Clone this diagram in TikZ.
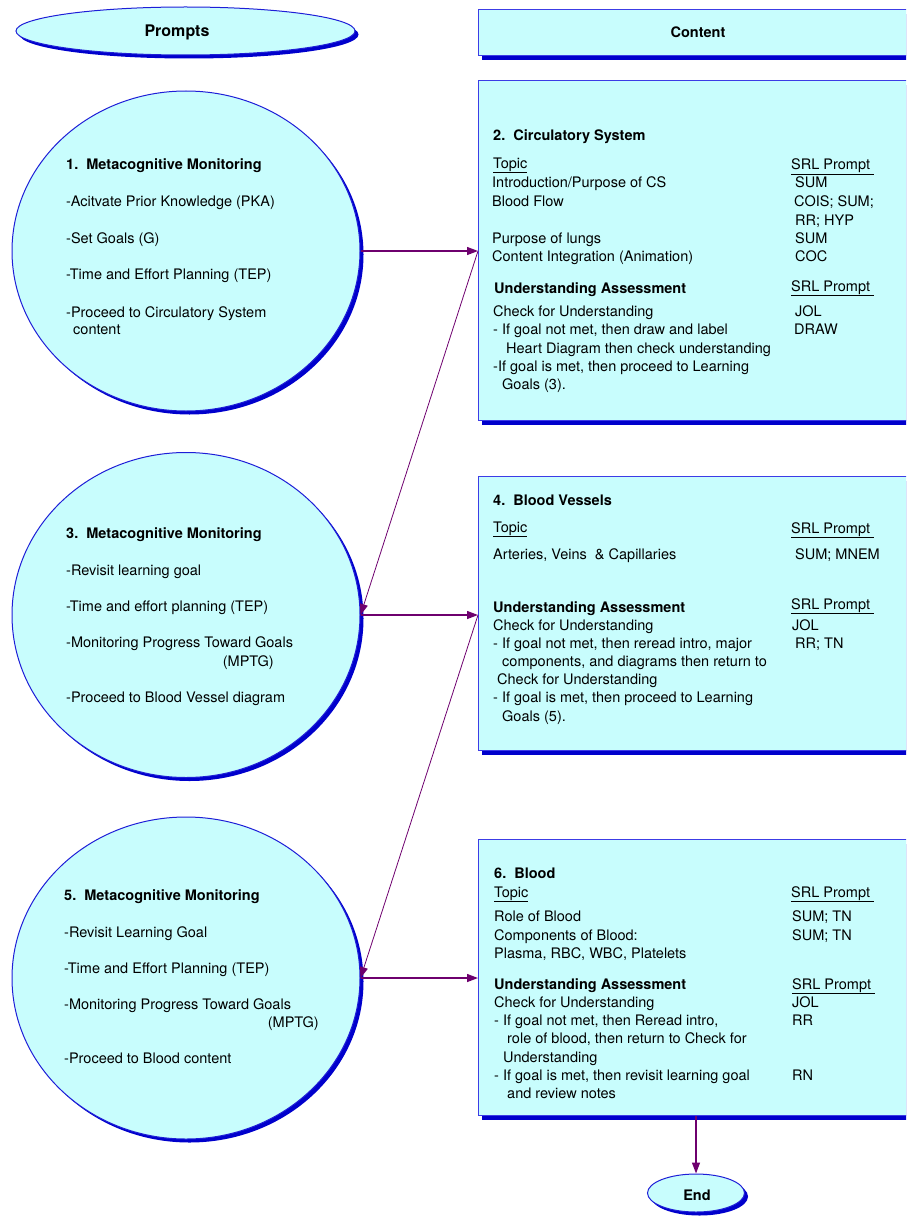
\documentclass[tikz,border=0pt]{standalone}
\usepackage{fontspec}
\setmainfont{TeX Gyre Heros}
\usetikzlibrary{shapes.geometric,shadows,arrows.meta}
\definecolor{cy}{RGB}{200,253,253}
\definecolor{bord}{RGB}{30,30,215}
\definecolor{bbord}{RGB}{60,60,230}
\definecolor{sblue}{RGB}{0,0,204}
\definecolor{arr}{RGB}{110,0,110}
\newcommand\tx[4]{\node[txt] (#1) at (#2,-#3) {#4};}
\newcommand\tr[4]{\node[txtr] (#1) at (#2,-#3) {#4};}
\newcommand\ul[1]{\underline{#1}}
\tikzset{
  txt/.style={anchor=base west, inner sep=0pt, font=\fontsize{14.5}{18}\selectfont},
  txtr/.style={anchor=base east, inner sep=0pt, font=\fontsize{14.5}{18}\selectfont},
  blob/.style={ellipse, draw=bord, line width=1pt, fill=cy, inner sep=0pt,
    drop shadow={shadow xshift=3.5pt, shadow yshift=-3.5pt, fill=sblue, opacity=1}},
  panel/.style={rectangle, draw=bbord, line width=1.3pt, fill=cy, inner sep=0pt, anchor=north west,
    drop shadow={shadow xshift=3pt, shadow yshift=-4pt, fill=sblue, opacity=1}},
  link/.style={draw=arr, line width=1.3pt, -{Triangle[length=11pt,width=8pt]}},
  thinlink/.style={draw=arr, line width=0.8pt, -{Triangle[length=11pt,width=8pt]}},
}
\begin{document}
\begin{tikzpicture}[x=1pt,y=1pt]
\useasboundingbox (0,0) rectangle (906,-1217);
\clip (0,0) rectangle (906,-1217);

% headers
\node[blob, minimum width=339pt, minimum height=48pt] (hp) at (185.5,-31) {};
\node[txt, anchor=center, font=\fontsize{16}{18}\selectfont\bfseries] (hpt) at (177,-32) {Prompts};
\node[panel, minimum width=452pt, minimum height=46pt] (hc) at (478,-9) {};
\node[txt, anchor=center, font=\fontsize{14.5}{18}\selectfont\bfseries] (hct) at (698,-32) {Content};

% circles
\node[blob, minimum width=348pt, minimum height=320pt] (c1) at (186,-251) {};
\node[blob, minimum width=348pt, minimum height=325pt] (c3) at (186,-615) {};
\node[blob, minimum width=348pt, minimum height=322pt] (c5) at (186,-978) {};

% boxes
\node[panel, minimum width=452pt, minimum height=340pt] (b2) at (478,-80) {};
\node[panel, minimum width=452pt, minimum height=274pt] (b4) at (478,-476) {};
\node[panel, minimum width=452pt, minimum height=276pt] (b6) at (478,-839) {};

% end
\node[blob, minimum width=97pt, minimum height=38pt] (end) at (696,-1193) {};
\node[txt, anchor=center, font=\fontsize{14.5}{18}\selectfont\bfseries] (endt) at (697,-1195) {End};

% circle 1 text
\tx{c1a}{66}{170}{\bfseries 1.\ \ Metacognitive Monitoring}
\tx{c1b}{66}{207}{-Acitvate Prior Knowledge (PKA)}
\tx{c1c}{66}{243}{-Set Goals (G)}
\tx{c1d}{66}{279}{-Time and Effort Planning (TEP)}
\tx{c1e}{66}{317}{-Proceed to Circulatory System}
\tx{c1f}{73}{334}{content}

% circle 3 text
\tx{c3a}{66}{538}{\bfseries 3.\ \ Metacognitive Monitoring}
\tx{c3b}{66}{575}{-Revisit learning goal}
\tx{c3c}{66}{611}{-Time and effort planning (TEP)}
\tx{c3d}{66}{647}{-Monitoring Progress Toward Goals}
\tr{c3e}{274}{666}{(MPTG)}
\tx{c3f}{66}{702}{-Proceed to Blood Vessel diagram}

% circle 5 text
\tx{c5a}{64}{900}{\bfseries 5.\ \ Metacognitive Monitoring}
\tx{c5b}{64}{937}{-Revisit Learning Goal}
\tx{c5c}{64}{973}{-Time and Effort Planning (TEP)}
\tx{c5d}{64}{1009}{-Monitoring Progress Toward Goals}
\tr{c5e}{319}{1027}{(MPTG)}
\tx{c5f}{64}{1063}{-Proceed to Blood content}

% box 2 text
\tx{b2a}{493}{141}{\bfseries 2.\ \ Circulatory System}
\tx{b2b}{493}{168}{\ul{Topic}}
\tx{b2c}{791}{170}{\ul{SRL Prompt\ }}
\tx{b2d}{492}{188}{Introduction/Purpose of CS}
\tx{b2e}{795}{188}{SUM}
\tx{b2f}{492}{206}{Blood Flow}
\tx{b2g}{794}{206}{COIS; SUM;}
\tx{b2h}{795}{225}{RR; HYP}
\tx{b2i}{492}{243}{Purpose of lungs}
\tx{b2j}{795}{243}{SUM}
\tx{b2k}{492}{261}{Content Integration (Animation)}
\tx{b2l}{795}{261}{COC}
\tx{b2m}{494}{293}{\bfseries Understanding Assessment}
\tx{b2n}{791}{291}{\ul{SRL Prompt\ }}
\tx{b2o}{493}{316}{Check for Understanding}
\tx{b2p}{795}{316}{JOL}
\tx{b2q}{493}{334}{- If goal not met, then draw and label}
\tx{b2r}{794}{334}{DRAW}
\tx{b2s}{506}{353}{Heart Diagram then check understanding}
\tx{b2t}{493}{371}{-If goal is met, then proceed to Learning}
\tx{b2u}{502}{389}{Goals (3).}

% box 4 text
\tx{b4a}{493}{505}{\bfseries 4.\ \ Blood Vessels}
\tx{b4b}{493}{532}{\ul{Topic}}
\tx{b4c}{791}{533}{\ul{SRL Prompt\ }}
\tx{b4d}{493}{559}{Arteries, Veins\ \ \& Capillaries}
\tx{b4e}{795}{559}{SUM; MNEM}
\tx{b4f}{493}{612}{\bfseries Understanding Assessment}
\tx{b4g}{791}{609}{\ul{SRL Prompt\ }}
\tx{b4h}{493}{630}{Check for Understanding}
\tx{b4i}{792}{630}{JOL}
\tx{b4j}{493}{648}{- If goal not met, then reread intro, major}
\tx{b4k}{795}{648}{RR; TN}
\tx{b4l}{502}{666}{components, and diagrams then return to}
\tx{b4m}{497}{684}{Check for Understanding}
\tx{b4n}{493}{702}{- If goal is met, then proceed to Learning}
\tx{b4o}{502}{721}{Goals (5).}

% box 6 text
\tx{b6a}{494}{878}{\bfseries 6.\ \ Blood}
\tx{b6b}{494}{897}{\ul{Topic}}
\tx{b6c}{791}{897}{\ul{SRL Prompt\ }}
\tx{b6d}{494}{921}{Role of Blood}
\tx{b6e}{792}{921}{SUM; TN}
\tx{b6f}{494}{940}{Components of Blood:}
\tx{b6g}{792}{940}{SUM; TN}
\tx{b6h}{494}{958}{Plasma, RBC, WBC, Platelets}
\tx{b6i}{494}{989}{\bfseries Understanding Assessment}
\tx{b6j}{792}{989}{\ul{SRL Prompt\ }}
\tx{b6k}{494}{1007}{Check for Understanding}
\tx{b6l}{792}{1007}{JOL}
\tx{b6m}{494}{1025}{- If goal not met, then Reread intro,}
\tx{b6n}{792}{1025}{RR}
\tx{b6o}{507}{1043}{role of blood, then return to Check for}
\tx{b6p}{503}{1062}{Understanding}
\tx{b6q}{494}{1080}{- If goal is met, then revisit learning goal}
\tx{b6r}{792}{1080}{RN}
\tx{b6s}{507}{1098}{and review notes}

% connectors
\coordinate (p2) at (c1.east -| b2.west);
\coordinate (p4) at (c3.east -| b4.west);
\coordinate (p6) at (c5.east -| b6.west);
\draw[link] (c1.east) -- (p2);
\draw[thinlink] (p2) -- (c3.east);
\draw[link] (c3.east) -- (p4);
\draw[thinlink] (p4) -- (c5.east);
\draw[link] (c5.east) -- (p6);
\draw[link] (end.north |- b6.south) -- (end.north);
\end{tikzpicture}
\end{document}
